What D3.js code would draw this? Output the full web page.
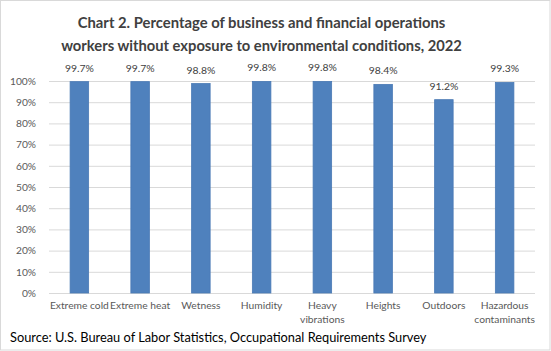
<!DOCTYPE html>
<html><head><meta charset="utf-8">
<script src="https://cdn.jsdelivr.net/npm/d3@7"></script>
<style>html,body{margin:0;padding:0;background:#fff;}svg{display:block;}</style>
</head><body>
<svg id="c" width="551" height="351"></svg>
<script>
const titleLines = ["Chart 2. Percentage of business and financial operations", "workers without exposure to environmental conditions, 2022"];
const categories = [["Extreme cold"], ["Extreme heat"], ["Wetness"], ["Humidity"], ["Heavy", "vibrations"], ["Heights"], ["Outdoors"], ["Hazardous", "contaminants"]];
const values = [99.7, 99.7, 98.8, 99.8, 99.8, 98.4, 91.2, 99.3];
const yTicks = [0, 10, 20, 30, 40, 50, 60, 70, 80, 90, 100];
const sourceText = "Source: U.S. Bureau of Labor Statistics, Occupational Requirements Survey";

(function () {
const FONT = "Lato, 'Open Sans', sans-serif";
const svg = d3.select("#c");
svg.append("rect").attr("x", 0.5).attr("y", 0.5).attr("width", 549.5).attr("height", 349.5)
  .attr("fill", "#fff").attr("stroke", "#d9d9d9").attr("stroke-width", 1);

function sizeFor(text, targetW, base, weight) {
  const t = svg.append("text").attr("font-family", FONT).attr("font-size", base)
    .attr("font-weight", weight || "normal").text(text);
  const w = t.node().getComputedTextLength();
  t.remove();
  return base * targetW / w;
}
function fit(sel, targetW, base) {
  sel.attr("font-size", base);
  const w = sel.node().getComputedTextLength();
  sel.attr("font-size", base * targetW / w);
}

const pLeft = 49, pRight = 535, pTop = 81, pBottom = 293;
const x = d3.scaleBand().domain(d3.range(categories.length)).range([pLeft, pRight]).paddingInner(0.695).paddingOuter(0.3475);
const y = d3.scaleLinear().domain([0, 100]).range([pBottom, pTop]);

// title
const tW = [368, 401];
titleLines.forEach((t, i) => {
  const s = svg.append("text").attr("x", 261.5).attr("y", 28 + i * 23).attr("text-anchor", "middle")
    .attr("font-family", FONT).attr("font-weight", "bold").attr("fill", "#404040").text(t);
  fit(s, tW[i], 16);
});

// gridlines
svg.append("g").selectAll("line").data(yTicks).join("line")
  .attr("x1", pLeft).attr("x2", pRight).attr("y1", d => y(d) + 0.5).attr("y2", d => y(d) + 0.5)
  .attr("stroke", "#d9d9d9").attr("stroke-width", 1);

// y axis labels
const tickFs = sizeFor("100%", 26, 12);
const yAxis = d3.axisLeft(y).tickValues(yTicks).tickFormat(d => d + "%").tickSize(0).tickPadding(0);
const ya = svg.append("g").attr("transform", `translate(36,0)`).call(yAxis);
ya.select(".domain").remove();
ya.selectAll("text").attr("font-family", FONT).attr("font-size", tickFs).attr("fill", "#595959");

// bars
svg.append("g").selectAll("rect").data(values).join("rect")
  .attr("x", (d, i) => x(i)).attr("width", x.bandwidth())
  .attr("y", d => y(d)).attr("height", d => pBottom - y(d))
  .attr("fill", "#4f81bd").attr("stroke", "#4a7ab5").attr("stroke-width", 0.8);

// value labels
const valFs = sizeFor("99.7%", 29, 12);
svg.append("g").selectAll("text").data(values).join("text")
  .attr("x", (d, i) => x(i) + x.bandwidth() / 2).attr("y", d => y(d) - 10)
  .attr("text-anchor", "middle").attr("font-family", FONT).attr("font-size", valFs).attr("fill", "#404040")
  .text(d => d.toFixed(1) + "%");

// category labels
const catFs = sizeFor("Extreme cold", 59, 11);
const cg = svg.append("g");
categories.forEach((lines, i) => {
  const t = cg.append("text").attr("x", x(i) + x.bandwidth() / 2).attr("y", 309)
    .attr("text-anchor", "middle").attr("font-family", FONT).attr("font-size", catFs).attr("fill", "#595959");
  lines.forEach((l, j) => t.append("tspan").attr("x", x(i) + x.bandwidth() / 2).attr("dy", j === 0 ? 0 : 14).text(l));
});

// source
const src = svg.append("text").attr("x", 10).attr("y", 342).attr("font-family", FONT).attr("fill", "#000").text(sourceText);
fit(src, 417, 14);
})();
</script>
</body></html>
